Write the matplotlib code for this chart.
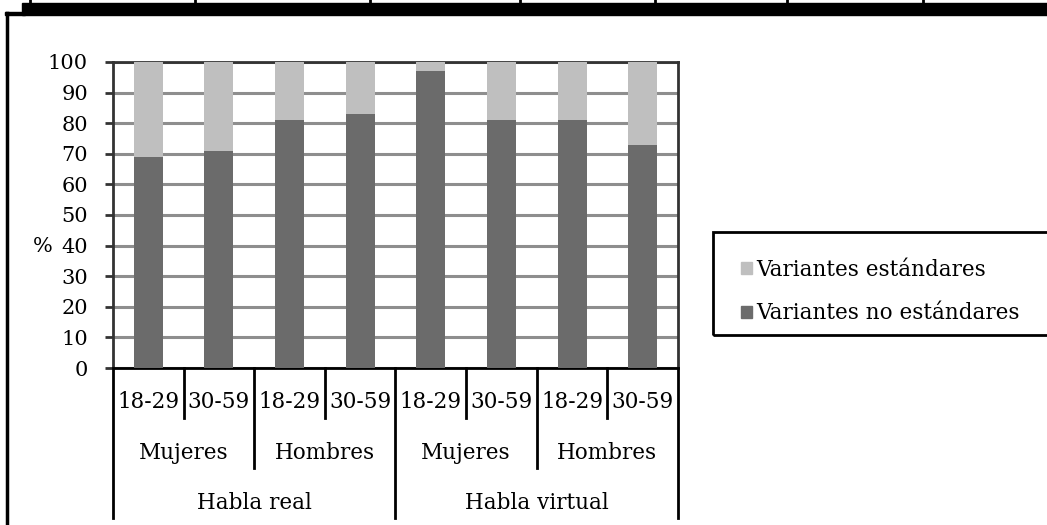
import matplotlib
matplotlib.use("Agg")
import matplotlib.pyplot as plt
from matplotlib.patches import Rectangle
from matplotlib.lines import Line2D
import numpy as np

# datos
edades = ["18-29", "30-59", "18-29", "30-59", "18-29", "30-59", "18-29", "30-59"]
sexos = ["Mujeres", "Hombres", "Mujeres", "Hombres"]
habla = ["Habla real", "Habla virtual"]
no_estandar = [69, 71, 81, 83, 97, 81, 81, 73]
estandar = [100 - v for v in no_estandar]

C_OSCURO = "#6b6b6b"
C_CLARO = "#bfbfbf"
FUENTE = "DejaVu Serif"
plt.rcParams["font.family"] = FUENTE

W, H = 1047, 525
fig = plt.figure(figsize=(W / 100, H / 100), dpi=100)
fig.patch.set_facecolor("white")

# ejes: px -> fracción de figura
x0, x1, ytop, ybot = 113, 678, 62, 368
ax = fig.add_axes([x0 / W, (H - ybot) / H, (x1 - x0) / W, (ybot - ytop) / H])

x = np.arange(len(no_estandar))
ax.bar(x, no_estandar, width=0.41, color=C_OSCURO, zorder=3)
ax.bar(x, estandar, bottom=no_estandar, width=0.41, color=C_CLARO, zorder=3)

ax.set_xlim(-0.5, len(x) - 0.5)
ax.set_ylim(0, 100)
ax.set_yticks(np.arange(0, 101, 10))
ax.set_xticks([])
ax.yaxis.grid(True, color="#8e8e8e", linewidth=2.2, zorder=0)
ax.tick_params(axis="y", direction="out", length=6, width=2, color="#333333",
               labelsize=15, pad=12)
for s in ax.spines.values():
    s.set_linewidth(2)
    s.set_color("#333333")
ax.spines["bottom"].set_color("black")

# eje de categorías jerárquico
tr = ax.get_xaxis_transform()
def ypx(py):
    return (ybot - py) / (ybot - ytop)

for k in [0.5, 2.5, 4.5, 6.5]:
    ax.plot([k, k], [0, ypx(418)], color="black", lw=2, transform=tr, clip_on=False)
for k in [1.5, 5.5]:
    ax.plot([k, k], [0, ypx(468)], color="black", lw=2, transform=tr, clip_on=False)
for k in [-0.5, 3.5, 7.5]:
    ax.plot([k, k], [0, ypx(518)], color="black", lw=2, transform=tr, clip_on=False)

for i, e in enumerate(edades):
    ax.text(i, ypx(402), e, transform=tr, ha="center", va="center", fontsize=15.5)
for i, s in enumerate(sexos):
    ax.text(2 * i + 0.5, ypx(453), s, transform=tr, ha="center", va="center", fontsize=15.5)
for i, h in enumerate(habla):
    ax.text(4 * i + 1.5, ypx(503), h, transform=tr, ha="center", va="center", fontsize=15.5)

fig.text(43 / W, 1 - 246 / H, "%", ha="center", va="center", fontsize=15)

# leyenda con marco propio
fig.patches.append(Rectangle((713 / W, 1 - 335 / H), 400 / W, 103 / H,
                             transform=fig.transFigure, fill=False,
                             edgecolor="black", linewidth=2))
handles = [Rectangle((0, 0), 1, 1, color=C_CLARO), Rectangle((0, 0), 1, 1, color=C_OSCURO)]
fig.legend(handles, ["Variantes estándares", "Variantes no estándares"],
           loc="upper left", bbox_to_anchor=(730 / W, 1 - 248 / H), frameon=False,
           fontsize=15.5, handlelength=0.5, handleheight=0.5, handletextpad=0.2,
           labelspacing=1.0, borderpad=0)

# marco exterior y restos de la tabla superior
fig.patches.append(Rectangle((22 / W, 1 - 15 / H), 1 - 22 / W, 12 / H,
                             transform=fig.transFigure, color="black"))
fig.patches.append(Rectangle((5 / W, 1 - 15 / H), 20 / W, 3 / H,
                             transform=fig.transFigure, color="black"))
fig.lines.append(Line2D([7 / W, 7 / W], [1 - 13 / H, 0], transform=fig.transFigure,
                        color="black", lw=2.5))
for px in [30, 195, 370, 520, 655, 787, 923]:
    fig.lines.append(Line2D([px / W, px / W], [1 - 4 / H, 1], transform=fig.transFigure,
                            color="black", lw=2))

fig.savefig("out.png", dpi=100)
